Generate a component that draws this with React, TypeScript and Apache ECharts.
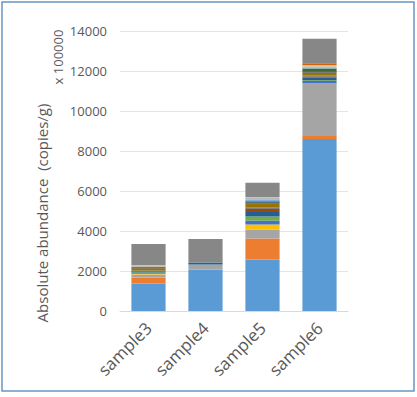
import React, { useEffect, useRef } from "react";
import * as echarts from "echarts";

const categories = ["sample3", "sample4", "sample5", "sample6"];
const yTicks = [0, 2000, 4000, 6000, 8000, 10000, 12000, 14000];

const seriesNames = [
  "t1", "t2", "t3", "t4", "t5", "t6", "t7", "t8", "t9",
  "t10", "t11", "t12", "t13", "t14", "t15", "t16", "t17", "Others",
];
const seriesColors = [
  "#5B9BD5", "#ED7D31", "#A5A5A5", "#FFC000", "#4472C4", "#70AD47", "#255E91", "#9E480E", "#636363",
  "#997300", "#264478", "#43682B", "#7CAFDD", "#F1975A", "#B7B7B7", "#FFCD33", "#D26012", "#878787",
];
const t1 = [1380, 2080, 2580, 8600];
const t2 = [290, 0, 1050, 150];
const t3 = [160, 250, 450, 2600];
const t4 = [20, 0, 250, 30];
const t5 = [40, 0, 200, 120];
const t6 = [30, 0, 200, 40];
const t7 = [60, 100, 215, 140];
const t8 = [20, 0, 170, 40];
const t9 = [20, 0, 60, 60];
const t10 = [120, 0, 200, 150];
const t11 = [20, 0, 60, 60];
const t12 = [50, 0, 50, 130];
const t13 = [20, 0, 60, 60];
const t14 = [10, 0, 40, 20];
const t15 = [40, 0, 80, 40];
const t16 = [10, 0, 20, 50];
const t17 = [0, 0, 0, 100];
const others = [1060, 1170, 730, 1220];
const seriesValues = [t1, t2, t3, t4, t5, t6, t7, t8, t9, t10, t11, t12, t13, t14, t15, t16, t17, others];

export default function App() {
  const ref = useRef<HTMLDivElement>(null);
  useEffect(() => {
    const chart = echarts.init(ref.current!, null, { renderer: "svg" });
    chart.setOption({
      animation: false,
      backgroundColor: "#ffffff",
      textStyle: { fontFamily: "'Open Sans', 'Noto Sans', sans-serif" },
      grid: { left: 120, right: 69, top: 31, bottom: 86, containLabel: false },
      graphic: [
        {
          type: "rect",
          shape: { x: 2, y: 2, width: 412, height: 389 },
          style: { fill: "none", stroke: "#6A95BF", lineWidth: 1.5 },
          silent: true,
        },
        {
          type: "text",
          x: 42,
          y: 213,
          rotation: Math.PI / 2,
          style: {
            text: "Absolute abundance  (copies/g)",
            fill: "#595959",
            font: "15px 'Open Sans', sans-serif",
            align: "center",
            verticalAlign: "middle",
          },
        },
        {
          type: "text",
          x: 58,
          y: 57,
          rotation: Math.PI / 2,
          style: {
            text: "x 100000",
            fill: "#595959",
            font: "13px 'Open Sans', sans-serif",
            align: "center",
            verticalAlign: "middle",
          },
        },
      ],
      xAxis: {
        type: "category",
        data: categories,
        axisLine: { lineStyle: { color: "#D9D9D9" } },
        axisTick: { show: false },
        axisLabel: { rotate: 45, color: "#595959", fontSize: 17, margin: 14 },
      },
      yAxis: {
        type: "value",
        min: 0,
        max: 14000,
        interval: 2000,
        axisLine: { show: false },
        axisTick: { show: false },
        splitLine: { lineStyle: { color: "#E4E4E4" } },
        axisLabel: {
          color: "#595959",
          fontSize: 13,
          margin: 13,
          formatter: (v: number) => (yTicks.includes(v) ? String(v) : ""),
        },
      },
      series: seriesNames.map((name, i) => ({
        name,
        type: "bar",
        stack: "total",
        barWidth: "60%",
        data: seriesValues[i],
        itemStyle: { color: seriesColors[i] },
      })),
    });
    return () => chart.dispose();
  }, []);
  return (
    <div
      ref={ref}
      style={{ position: "absolute", left: 0, top: 0, width: 417, height: 397 }}
    />
  );
}
